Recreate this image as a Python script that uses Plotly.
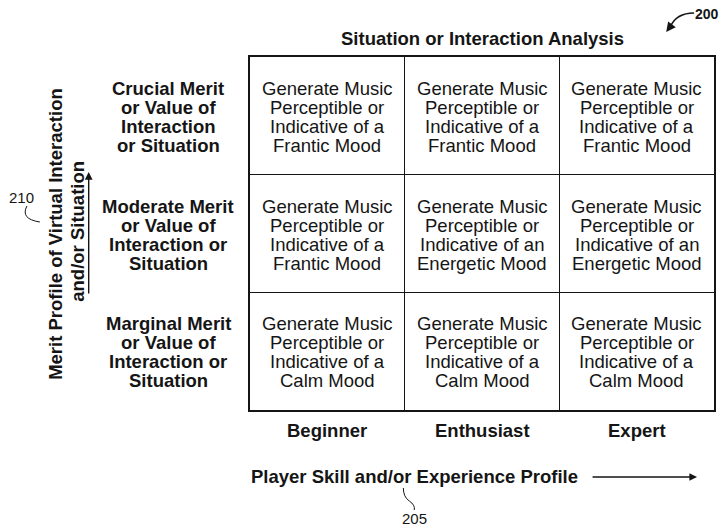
import plotly.graph_objects as go

# ---------------- data ----------------
skill_levels = ["Beginner", "Enthusiast", "Expert"]          # columns, left -> right
merit_levels = [                                               # rows, bottom -> top
    ["Marginal Merit", "or Value of", "Interaction or", "Situation"],
    ["Moderate Merit", "or Value of", "Interaction or", "Situation"],
    ["Crucial Merit", "or Value of", "Interaction", "or Situation"],
]
mood_articles = [                                              # rows bottom -> top
    ["a", "a", "a"],
    ["a", "an", "an"],
    ["a", "a", "a"],
]
moods = [                                                      # rows bottom -> top
    ["Calm", "Calm", "Calm"],
    ["Frantic", "Energetic", "Energetic"],
    ["Frantic", "Frantic", "Frantic"],
]
title_text = "Situation or Interaction Analysis"
x_title = "Player Skill and/or Experience Profile"
y_title_lines = ["Merit Profile of Virtual Interaction", "and/or Situation"]
ref_labels = {"fig": "200", "x": "205", "y": "210"}

# ---------------- geometry helpers ----------------
W, H = 722, 529
X0, X1, YB, YT = 250, 716, 410, 57      # grid box in pixels
NC, NR = len(skill_levels), len(merit_levels)


def pxp(px):
    return (px - X0) / (X1 - X0)


def pyp(py):
    return (YB - py) / (YB - YT)


FONT = "Liberation Sans, Arial, Helvetica, sans-serif"
INK = "#151515"
FS = 18.5
LS = 19

fig = go.Figure()
# invisible trace at cell centres so the axes carry the grid
fig.add_trace(go.Scatter(
    x=[c + 0.5 for r in range(NR) for c in range(NC)],
    y=[r + 0.5 for r in range(NR) for c in range(NC)],
    mode="markers", marker=dict(opacity=0), hoverinfo="skip", showlegend=False))

ann = []


def txt(x, y, t, size=FS, xref="paper", yref="paper", **kw):
    d = dict(x=x, y=y, xref=xref, yref=yref, text=t, showarrow=False,
             xanchor="center", yanchor="middle",
             font=dict(family=FONT, size=size, color=INK))
    d.update(kw)
    ann.append(d)


# cell texts
for r in range(NR):
    for c in range(NC):
        lines = ["Generate Music", "Perceptible or",
                 f"Indicative of {mood_articles[r][c]}", f"{moods[r][c]} Mood"]
        for k, t in enumerate(lines):
            txt(c + 0.5, r + 0.5, t, xref="x", yref="y", yshift=(1.5 - k) * LS - 1)
# row labels (left of the grid, aligned with the y axis rows)
for r in range(NR):
    for k, t in enumerate(merit_levels[r]):
        txt(pxp(168), (r + 0.5) / NR, f"<b>{t}</b>", yshift=(1.5 - k) * LS - 1)
# column labels
for c, t in enumerate(skill_levels):
    txt((c + 0.5) / NC, pyp(430), f"<b>{t}</b>")
# title
txt(pxp(484), pyp(38), f"<b>{title_text}</b>")
# x title
txt(pxp(249), pyp(477), f"<b>{x_title}</b>", xanchor="left")
# y title (rotated two lines)
for xc, yc, t in [(54, 234, y_title_lines[0]), (76, 231, y_title_lines[1])]:
    txt(pxp(xc), pyp(yc), f"<b>{t}</b>", textangle=-90)
# reference numerals
txt(pxp(709), pyp(14), f"<b>{ref_labels['fig']}</b>", size=14)
txt(pxp(415), pyp(518), ref_labels["x"], size=15)
txt(pxp(21), pyp(198), ref_labels["y"], size=15)

# arrows
arrow = dict(xref="paper", yref="paper", axref="pixel", ayref="pixel", text="",
             showarrow=True, arrowhead=2, arrowcolor=INK)
ann.append(dict(arrow, x=pxp(699), y=pyp(477), ax=-106, ay=0,
                arrowsize=1.1, arrowwidth=1.4))
ann.append(dict(arrow, x=pxp(88), y=pyp(172), ax=0, ay=123,
                arrowsize=1.1, arrowwidth=1.4))
ann.append(dict(arrow, x=pxp(668), y=pyp(32), ax=6, ay=-8,
                arrowsize=1.2, arrowwidth=1.6))

shapes = [
    # curved leader for 200
    dict(type="path", xref="paper", yref="paper",
         path=f"M {pxp(696)} {pyp(13)} Q {pxp(678)} {pyp(13)} {pxp(672)} {pyp(27)}",
         line=dict(color=INK, width=1.6)),
    # leader for 205
    dict(type="path", xref="paper", yref="paper",
         path=(f"M {pxp(404)} {pyp(488)} Q {pxp(404)} {pyp(497)} {pxp(410)} {pyp(501)} "
               f"Q {pxp(416)} {pyp(505)} {pxp(415)} {pyp(510)}"),
         line=dict(color=INK, width=1)),
    # leader for 210
    dict(type="path", xref="paper", yref="paper",
         path=f"M {pxp(26)} {pyp(206)} Q {pxp(19)} {pyp(219)} {pxp(39)} {pyp(222)}",
         line=dict(color=INK, width=1)),
]

axis_common = dict(showline=True, mirror=True, linecolor=INK, linewidth=1.5,
                   showticklabels=False, ticks="", zeroline=False, showgrid=False,
                   fixedrange=True)
fig.update_layout(
    width=W, height=H, autosize=False,
    margin=dict(l=X0, r=W - X1, t=YT, b=H - YB, pad=0),
    paper_bgcolor="white", plot_bgcolor="white",
    xaxis=dict(range=[0, NC], tickvals=[0.5, 1.5, 2.5],
               minor=dict(tickvals=list(range(1, NC)), showgrid=True,
                          gridcolor=INK, gridwidth=1.3),
               **axis_common),
    yaxis=dict(range=[0, NR], tickvals=[0.5, 1.5, 2.5],
               minor=dict(tickvals=list(range(1, NR)), showgrid=True,
                          gridcolor=INK, gridwidth=1.3),
               **axis_common),
    annotations=ann, shapes=shapes, showlegend=False,
)

fig.write_html("out.html", config={"displayModeBar": False},
               post_script="document.body.style.margin='0px';")
